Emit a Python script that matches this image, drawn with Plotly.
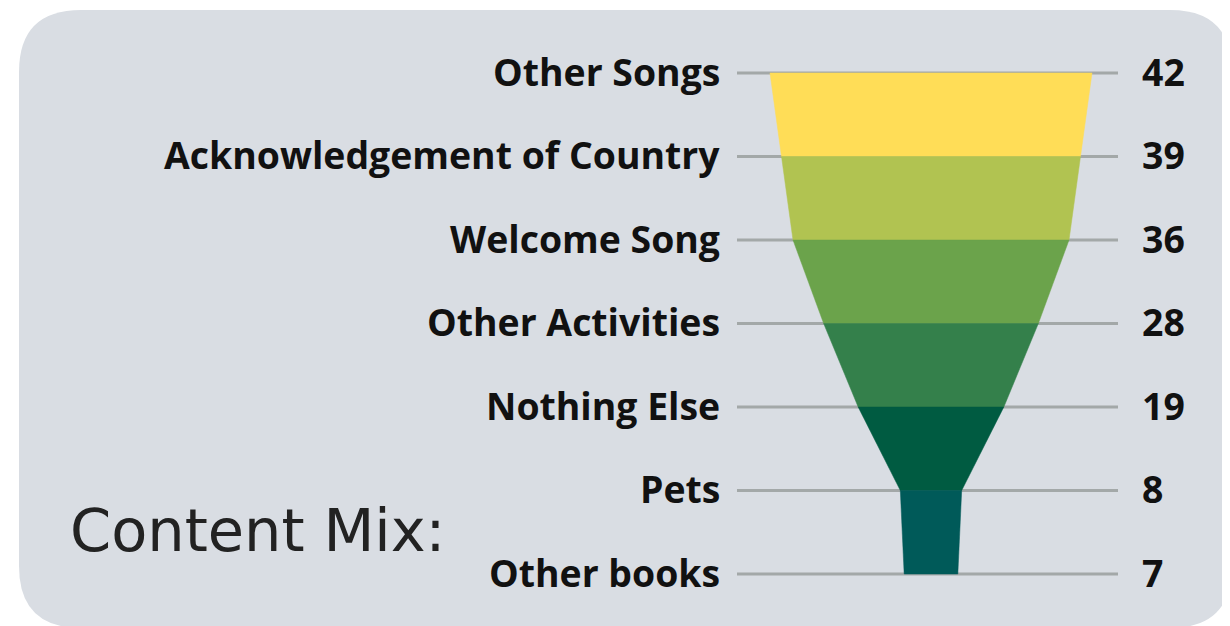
import plotly.graph_objects as go

categories = ["Other Songs", "Acknowledgement of Country", "Welcome Song",
              "Other Activities", "Nothing Else", "Pets", "Other books"]
values = [42, 39, 36, 28, 19, 8, 7]
segment_colors = ["#FFDD57", "#B1C351", "#6BA34B", "#34804B", "#005B41", "#005A59"]
title_text = "Content Mix:"

OFF = 8  # default page body margin
W, H = 1230 - OFF, 626 - OFF
px_per_unit = 322 / 42
center_px = 931 - OFF
y0_px, dy_px = 73 - OFF, 83.5


def px(x):
    return (x - OFF) / W


def py(y):
    return 1 - (y - OFF) / H


fig = go.Figure()

for i in range(len(values) - 1):
    a, b = values[i] / 2, values[i + 1] / 2
    fig.add_trace(go.Scatter(
        x=[-a, a, b, -b, -a], y=[i, i, i + 1, i + 1, i],
        fill="toself", fillcolor=segment_colors[i], mode="lines",
        line=dict(width=0.5, color=segment_colors[i]),
        hoverinfo="skip", showlegend=False))

# rounded background rectangle (paper coords)
x0, x1, yt, yb, r = px(19), px(1232), py(10), py(628), 62
rx, ry = r / W, r / H
path = (f"M {x0+rx},{yt} L {x1-rx},{yt} Q {x1},{yt} {x1},{yt-ry} "
        f"L {x1},{yb+ry} Q {x1},{yb} {x1-rx},{yb} L {x0+rx},{yb} "
        f"Q {x0},{yb} {x0},{yb+ry} L {x0},{yt-ry} Q {x0},{yt} {x0+rx},{yt} Z")
shapes = [dict(type="path", path=path, xref="paper", yref="paper",
               fillcolor="#D9DDE3", line=dict(width=0), layer="below")]
annotations = []
label_font = dict(family="Open Sans", size=37.4, color="#111111", weight="bold")
for i, (c, v) in enumerate(zip(categories, values)):
    shapes.append(dict(type="line", xref="paper", yref="y", x0=px(737), x1=px(1118),
                       y0=i, y1=i, line=dict(color="#A3A8A8", width=3), layer="below"))
    annotations.append(dict(text=c, xref="paper", yref="y", x=px(722), y=i - 0.02,
                            xanchor="right", yanchor="middle", showarrow=False,
                            font=label_font))
    annotations.append(dict(text=str(v), xref="paper", yref="y", x=px(1140), y=i - 0.02,
                            xanchor="left", yanchor="middle", showarrow=False,
                            font=label_font))

annotations.append(dict(text=title_text, xref="paper", yref="paper", x=px(68), y=py(530),
                        xanchor="left", yanchor="middle", showarrow=False,
                        font=dict(family="DejaVu Sans", size=59, color="#222222")))

fig.update_layout(
    width=W, height=H, margin=dict(l=0, r=0, t=0, b=0),
    paper_bgcolor="white", plot_bgcolor="rgba(0,0,0,0)",
    xaxis=dict(range=[-center_px / px_per_unit, (W - center_px) / px_per_unit],
               visible=False, fixedrange=True),
    yaxis=dict(range=[(H - y0_px) / dy_px, -y0_px / dy_px], visible=False, fixedrange=True),
    shapes=shapes, annotations=annotations,
)

fig.write_html("out.html")
